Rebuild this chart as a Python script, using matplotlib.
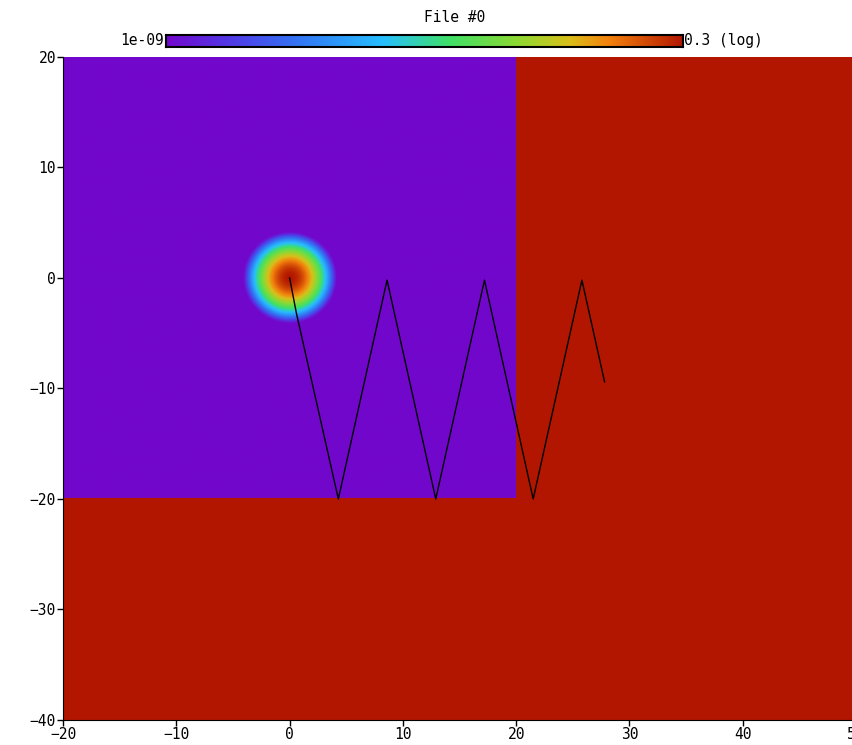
import numpy as np
import matplotlib
matplotlib.use("Agg")
import matplotlib.pyplot as plt
from matplotlib.colors import LinearSegmentedColormap, LogNorm

# field limits (log scale)
vmin, vmax = 1e-9, 0.3

# domain
x_range = (-20, 50)
y_range = (-40, 20)

# low-value block (everything else sits at the max)
block_x = (-20, 20)
block_y = (-20, 20)

# gaussian source
src_x, src_y = 0.0, 0.0
src_peak = 0.3
src_sigma = 0.66

# traced path
path_x = [0.0, 0.15, 0.3, 0.45, 0.6, 4.3, 8.6, 12.9, 17.2, 21.5, 25.8, 27.8]
path_y = [0.0, -0.8, -1.6, -2.4, -3.2, -20.0, -0.2, -20.0, -0.2, -20.0, -0.2, -9.4]

xticks = [-20, -10, 0, 10, 20, 30, 40, 50]
yticks = [-40, -30, -20, -10, 0, 10, 20]

cmap = LinearSegmentedColormap.from_list("visit", [
    (0.00, (0.45, 0.03, 0.80)),
    (0.12, (0.32, 0.22, 0.90)),
    (0.25, (0.20, 0.45, 0.95)),
    (0.42, (0.15, 0.75, 1.00)),
    (0.55, (0.25, 0.88, 0.40)),
    (0.68, (0.55, 0.85, 0.20)),
    (0.78, (0.85, 0.75, 0.10)),
    (0.86, (0.95, 0.50, 0.05)),
    (1.00, (0.70, 0.09, 0.00)),
])

xs = np.linspace(x_range[0], x_range[1], 701)
ys = np.linspace(y_range[0], y_range[1], 601)
X, Y = np.meshgrid(xs, ys)
field = np.full(X.shape, vmax)
inside = (X < block_x[1]) & (Y > block_y[0])
blob = src_peak * np.exp(-((X - src_x) ** 2 + (Y - src_y) ** 2) / (2 * src_sigma ** 2))
field[inside] = np.clip(blob[inside], vmin, vmax)

plt.rcParams['font.family'] = ['DejaVu Sans Mono']
plt.rcParams['font.size'] = 10.5

fig = plt.figure(figsize=(8.53, 7.45), dpi=100)
ax = fig.add_axes([0.0739, 0.0336, 0.9297, 0.89])
ax.imshow(field, origin='lower', extent=[x_range[0], x_range[1], y_range[0], y_range[1]],
          cmap=cmap, norm=LogNorm(vmin, vmax), aspect='auto', interpolation='bilinear')
ax.plot(path_x, path_y, color='black', lw=1.0)
ax.set_xlim(*x_range)
ax.set_ylim(*y_range)
ax.set_xticks(xticks)
ax.set_yticks(yticks)
ax.tick_params(direction='out', length=4, width=1, pad=1)
for s in ['top', 'right']:
    ax.spines[s].set_visible(False)

cax = fig.add_axes([0.1946, 0.937, 0.606, 0.016])
grad = np.logspace(np.log10(vmin), np.log10(vmax), 256).reshape(1, -1)
cax.imshow(grad, cmap=cmap, norm=LogNorm(vmin, vmax), aspect='auto',
           extent=[0, 1, 0, 1])
cax.set_xticks([])
cax.set_yticks([])
for s in cax.spines.values():
    s.set_linewidth(1.5)

fig.text(0.192, 0.945, '1e-09', ha='right', va='center')
fig.text(0.802, 0.945, '0.3 (log)', ha='left', va='center')
fig.text(0.533, 0.977, 'File #0', ha='center', va='center')

fig.savefig('out.png', dpi=100)
